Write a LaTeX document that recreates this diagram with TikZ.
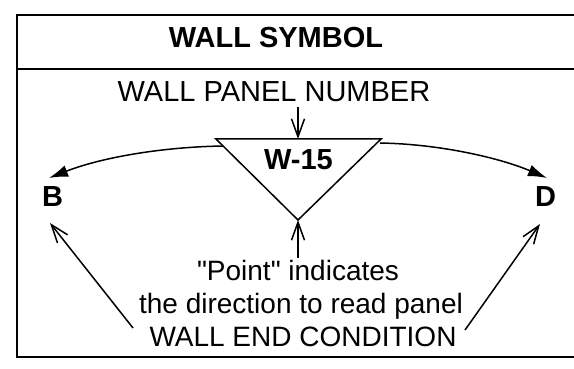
\documentclass[tikz,border=0pt]{standalone}
\usepackage{fontspec}
\setmainfont{Liberation Sans}
% same face without TeX ligatures, so " stays a straight quote
\newfontfamily\plainsans{Liberation Sans}
\usetikzlibrary{arrows.meta}
\tikzset{
  frame/.style={line width=2pt},
  rule/.style={line width=1.4pt},
  edge/.style={line width=1.5pt},
  label/.style={font=\fontsize{29}{32}\selectfont, inner sep=0pt, anchor=base},
  note/.style={label, font=\plainsans\fontsize{28}{31}\selectfont},
  boldlabel/.style={label, font=\fontsize{29}{32}\selectfont\bfseries},
  solidtip/.style={-{Latex[length=19pt,width=12pt]}},
  opentip/.style={-{Straight Barb[length=18pt,width=13pt,line width=1.5pt]}}
}
\begin{document}
\begin{tikzpicture}[x=1pt,y=-1pt]
\useasboundingbox (0,0) rectangle (574,369);
% outer frame, open on the right
\draw[frame] (574,15.5) -- (17,15.5) -- (17,357) -- (574,357);
\draw[rule] (17,69) -- (574,69);
% header
\node[boldlabel] (title) at (276,48) {WALL SYMBOL};
\node[label] (panelno) at (274,102) {WALL PANEL NUMBER};
% wall symbol triangle
\coordinate (tl) at (216,139);
\coordinate (tr) at (381,139);
\coordinate (tip) at (298,220);
\draw[edge, line join=miter] (tl) -- (tr) -- (tip) -- cycle;
\node[boldlabel] (wnum) at (298.5,170) {W-15};
% end labels
\node[boldlabel] (endB) at (52.5,207) {B};
\node[boldlabel] (endD) at (545.5,207) {D};
% direction arcs
\coordinate (arcL) at (223,146);
\coordinate (arcR) at (380,143);
\coordinate (headB) at (49,178);
\coordinate (headD) at (547,178);
\draw[edge, solidtip] (arcL) .. controls (160,147) and (100,158) .. (headB);
\draw[edge, solidtip] (arcR) .. controls (440,144) and (500,158) .. (headD);
% notes
\node[note] (point) at (298,280) {"Point" indicates};
\node[note] (dir) at (301,313) {the direction to read panel};
\node[note] (endcond) at (303,346) {WALL END CONDITION};
% leaders
\coordinate (panelarrow) at (298,107);
\coordinate (topmid) at (298,139);
\coordinate (pointarrow) at (298,258);
\coordinate (legL) at (133,328);
\coordinate (legR) at (465,330);
\coordinate (toB) at (50,223);
\coordinate (toD) at (540,224);
\draw[edge, opentip] (panelarrow) -- (topmid);
\draw[edge, opentip] (pointarrow) -- (tip);
\draw[edge, opentip] (legL) -- (toB);
\draw[edge, opentip] (legR) -- (toD);
\end{tikzpicture}
\end{document}
